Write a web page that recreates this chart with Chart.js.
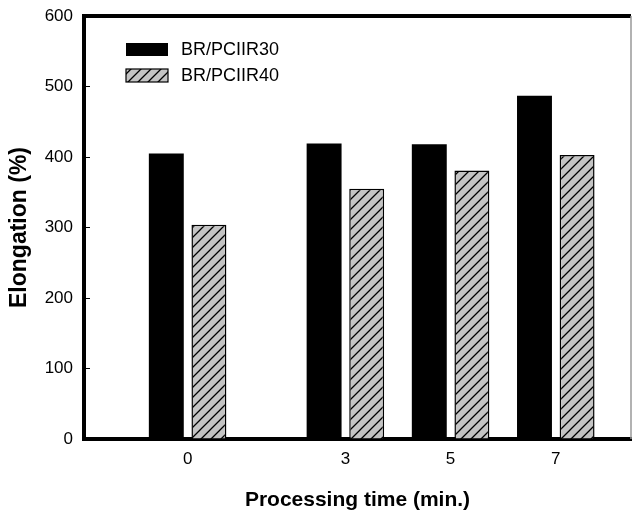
<!DOCTYPE html>
<html>
<head>
<meta charset="utf-8">
<script src="https://cdn.jsdelivr.net/npm/chart.js@4/dist/chart.umd.min.js"></script>
<style>
  body { margin: 0; background: #fff; }
</style>
</head>
<body>
<canvas id="elongation" width="632" height="515"></canvas>
<script>
const times = [0, 3, 5, 7];
const seriesNames = ['BR/PCIIR30', 'BR/PCIIR40'];
const r30 = [405, 419, 418, 487];
const r40 = [304, 355, 381, 403];
const yTicks = [0, 100, 200, 300, 400, 500, 600];

const FONT = '"Liberation Sans", Arial, sans-serif';
const ctx = document.getElementById('elongation');
const g2d = ctx.getContext('2d');

// grey fill with "/" hatching
function hatch() {
    const c = document.createElement('canvas');
    c.width = 10;
    c.height = 10;
    const g = c.getContext('2d');
    g.fillStyle = '#c4c4c4';
    g.fillRect(0, 0, 10, 10);
    g.strokeStyle = '#000';
    g.lineWidth = 1.3;
    g.beginPath();
    g.moveTo(0, 10); g.lineTo(10, 0);
    g.moveTo(-2, 2); g.lineTo(2, -2);
    g.moveTo(8, 12); g.lineTo(12, 8);
    g.stroke();
    return g2d.createPattern(c, 'repeat');
}
const hatched = hatch();

function points(vals) {
    return times.map((t, i) => ({ x: t, y: vals[i] }));
}

// top and right border of the frame
const frame = {
    id: 'frame',
    afterDraw(chart) {
        const a = chart.chartArea;
        const c = chart.ctx;
        c.save();
        c.strokeStyle = '#000';
        c.lineWidth = 4;
        c.beginPath();
        c.moveTo(a.left - 2, a.top);
        c.lineTo(a.right, a.top);
        c.stroke();
        c.strokeStyle = '#999';
        c.lineWidth = 1.5;
        c.beginPath();
        c.moveTo(a.right, a.top);
        c.lineTo(a.right, a.bottom);
        c.stroke();
        c.restore();
    }
};

// legend inside the plot, upper left
const innerLegend = {
    id: 'innerLegend',
    afterDraw(chart) {
        const a = chart.chartArea;
        const c = chart.ctx;
        c.save();
        c.font = '18px ' + FONT;
        c.textBaseline = 'middle';
        chart.data.datasets.forEach((ds, i) => {
            const bx = a.left + 42;
            const by = a.top + 27 + i * 26;
            c.fillStyle = ds.backgroundColor;
            c.fillRect(bx, by, 42, 13);
            if (ds.borderWidth) {
                c.strokeStyle = '#000';
                c.lineWidth = 1.2;
                c.strokeRect(bx, by, 42, 13);
            }
            c.fillStyle = '#000';
            c.fillText(ds.label, bx + 55, by + 7);
        });
        c.restore();
    }
};

new Chart(ctx, {
    type: 'bar',
    data: {
        datasets: [{
            label: seriesNames[0],
            data: points(r30),
            backgroundColor: '#000',
            borderWidth: 0
        }, {
            label: seriesNames[1],
            data: points(r40),
            backgroundColor: hatched,
            borderColor: '#000',
            borderWidth: 1.5
        }]
    },
    options: {
        responsive: false,
        animation: false,
        categoryPercentage: 0.81,
        barPercentage: 0.82,
        layout: { padding: { top: 16, right: 1, left: 0, bottom: 0 } },
        plugins: {
            legend: { display: false },
            tooltip: { enabled: false }
        },
        scales: {
            x: {
                type: 'linear',
                offset: false,
                min: -1.97,
                max: 8.43,
                afterBuildTicks: (s) => { s.ticks = times.map(v => ({ value: v })); },
                afterFit: (s) => { s.height = 76; },
                grid: { display: false, drawTicks: false, offset: false },
                border: { display: true, color: '#000', width: 4 },
                ticks: {
                    color: '#000',
                    padding: 10,
                    font: { family: FONT, size: 17 }
                },
                title: {
                    display: true,
                    text: 'Processing time (min.)',
                    color: '#000',
                    padding: { top: 0, bottom: 2 },
                    font: { family: FONT, size: 21, weight: 'bold' }
                }
            },
            y: {
                min: 0,
                max: 600,
                afterBuildTicks: (s) => { s.ticks = yTicks.map(v => ({ value: v })); },
                afterFit: (s) => {
                    s.width = 84;
                    s.paddingTop = 0;
                    s.paddingBottom = 0;
                },
                grid: {
                    drawOnChartArea: false,
                    drawTicks: true,
                    tickLength: -6,
                    color: '#000',
                    lineWidth: 1
                },
                border: { display: true, color: '#000', width: 4 },
                ticks: {
                    color: '#000',
                    padding: 17,
                    font: { family: FONT, size: 17 }
                },
                title: {
                    display: true,
                    text: 'Elongation (%)',
                    color: '#000',
                    padding: { top: 6, bottom: 0 },
                    font: { family: FONT, size: 23, weight: 'bold' }
                }
            }
        }
    },
    plugins: [frame, innerLegend]
});
</script>
</body>
</html>
